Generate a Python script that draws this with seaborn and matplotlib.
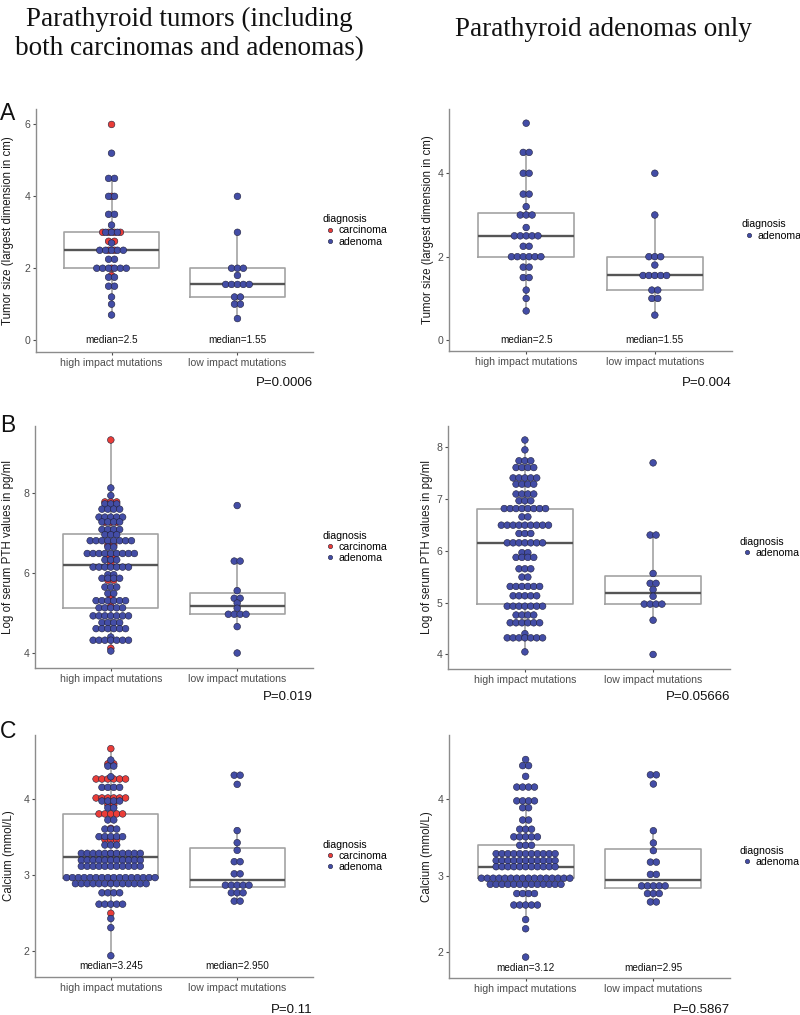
import numpy as np
import pandas as pd
import matplotlib
matplotlib.use("Agg")
import matplotlib.pyplot as plt
import seaborn as sns

groups = ["high impact mutations", "low impact mutations"]
palette = {"carcinoma": "#ea3d38", "adenoma": "#434da6"}

# A: tumor size (cm) -- row value and number of dots in that row
size_high_aden = [5.2, 4.5, 4.0, 3.5, 3.2, 3.0, 2.7, 2.5, 2.25, 2.0, 1.75, 1.5, 1.2, 1.0, 0.7]
size_high_aden_n = [1, 2, 2, 2, 1, 3, 1, 5, 2, 6, 2, 2, 1, 1, 1]
size_high_carc = [6.0, 4.0, 3.0, 2.75, 2.5, 2.0, 1.8]
size_high_carc_n = [1, 1, 4, 2, 2, 1, 1]
size_low = [4.0, 3.0, 2.0, 1.8, 1.55, 1.2, 1.0, 0.6]
size_low_n = [1, 1, 3, 1, 5, 2, 2, 1]

# B: log of serum PTH
pth_high_aden = [8.13, 7.94, 7.73, 7.6, 7.4, 7.28, 7.09, 6.96, 6.81, 6.65, 6.49, 6.33, 6.15,
                 5.96, 5.87, 5.65, 5.49, 5.31, 5.13, 4.93, 4.76, 4.61, 4.40, 4.32, 4.05]
pth_high_aden_n = [1, 1, 3, 4, 5, 4, 4, 3, 8, 2, 9, 3, 7, 2, 4, 3, 2, 6, 5, 7, 4, 6, 1, 7, 1]
pth_high_carc = [9.33, 7.78, 7.27, 7.0, 6.7, 6.45, 6.25, 5.82, 5.38, 5.17, 4.12]
pth_high_carc_n = [1, 3, 3, 1, 2, 2, 1, 2, 1, 1, 1]
pth_low = [7.69, 6.3, 5.56, 5.37, 5.25, 5.12, 4.97, 4.66, 4.0]
pth_low_n = [1, 2, 1, 2, 1, 1, 4, 1, 1]

# C: calcium (mmol/L)
ca_high_aden = [4.52, 4.44, 4.30, 4.16, 3.98, 3.89, 3.73, 3.61, 3.51, 3.40, 3.29, 3.20, 3.12,
                2.97, 2.89, 2.77, 2.62, 2.43, 2.31, 1.94]
ca_high_aden_n = [1, 2, 1, 4, 4, 2, 2, 3, 5, 3, 11, 11, 11, 16, 13, 4, 5, 1, 1, 1]
ca_high_carc = [4.67, 4.47, 4.27, 4.02, 3.93, 3.81, 3.62, 3.47, 3.29, 2.95, 2.5]
ca_high_carc_n = [1, 2, 6, 6, 2, 5, 1, 3, 1, 1, 1]
ca_low = [4.32, 4.20, 3.59, 3.43, 3.33, 3.18, 3.02, 2.87, 2.77, 2.66]
ca_low_n = [2, 1, 1, 1, 1, 2, 2, 5, 3, 2]

size_medians_all = ["median=2.5", "median=1.55"]
size_medians_aden = ["median=2.5", "median=1.55"]
ca_medians_all = ["median=3.245", "median=2.950"]
ca_medians_aden = ["median=3.12", "median=2.95"]
p_values = ["P=0.0006", "P=0.004", "P=0.019", "P=0.05666", "P=0.11", "P=0.5867"]

W, H = 800, 1015
DOT_PX = 5.9
plt.rcParams["font.family"] = ["Liberation Sans", "DejaVu Sans"]

fig = plt.figure(figsize=(W / 100, H / 100), dpi=100)


def make_frame(high_a, high_c, low_a):
    parts = []
    if high_c is not None:
        parts.append(("carcinoma", 0, high_c))
    parts.append(("adenoma", 0, high_a))
    parts.append(("adenoma", 1, low_a))
    rows = []
    for diag, pos, (vals, cnts) in parts:
        for v in np.repeat(vals, cnts):
            rows.append((groups[pos], pos, diag, float(v)))
    return pd.DataFrame(rows, columns=["group", "pos", "diagnosis", "value"])


def draw(px, df, ylim, yticks, ylabel, lab_cx, meds, med_y, pval, p_dy):
    x0, y0, x1, y1 = px
    rect = [x0 / W, 1 - y1 / H, (x1 - x0) / W, (y1 - y0) / H]
    ax = fig.add_axes(rect)
    step = DOT_PX / ((x1 - x0) / 2.2)
    key = ["pos", "diagnosis", "value"]
    k = df.groupby(key).cumcount()
    n = df.groupby(key)["value"].transform("size")
    df["x"] = df["pos"] + (k - (n - 1) / 2) * step

    sns.boxplot(data=df, x="pos", y="value", native_scale=True, orient="x",
                width=0.75, fill=False, color="#a3a3a3", linewidth=1.2,
                showfliers=False, showcaps=False,
                medianprops=dict(color="#555555", linewidth=1.7), ax=ax)
    order = [d for d in ["carcinoma", "adenoma"] if d in set(df["diagnosis"])]
    sns.scatterplot(data=df, x="x", y="value", hue="diagnosis", hue_order=order,
                    palette=palette, s=23, edgecolor="#20203a", linewidth=0.4,
                    ax=ax, zorder=3)
    sns.move_legend(ax, "center left", bbox_to_anchor=(1.035, 0.5), frameon=False,
                    title="diagnosis", fontsize=7.6, title_fontsize=7.6,
                    handlelength=1.35, handletextpad=0.1, labelspacing=0.1,
                    borderpad=0, borderaxespad=0, alignment="left", markerscale=0.65)

    ax.set_xlim(-0.6, 1.6)
    ax.set_ylim(*ylim)
    ax.set_xticks([0, 1], groups)
    ax.set_yticks(yticks, [str(t) for t in yticks])
    ax.set_xlabel("")
    ax.set_ylabel(ylabel, fontsize=8.3, color="#1a1a1a")
    ax.yaxis.set_label_coords((lab_cx + 6.5 - x0) / (x1 - x0), 0.5)
    ax.tick_params(axis="both", labelsize=7.6, colors="#4d4d4d", length=2.5,
                   width=0.8, pad=1.5)
    for s in ["top", "right"]:
        ax.spines[s].set_visible(False)
    for s in ["left", "bottom"]:
        ax.spines[s].set_color("#8c8c8c")
        ax.spines[s].set_linewidth(1.0)
    if meds is not None:
        for i, t in enumerate(meds):
            ax.text(i, med_y, t, ha="center", va="center", fontsize=7.2, color="#111111")
    ax.annotate(pval, xy=(1, 0), xycoords="axes fraction", xytext=(0, -p_dy),
                textcoords="offset pixels", ha="right", va="center",
                fontsize=9.5, color="#111111")
    return ax


dfA1 = make_frame((size_high_aden, size_high_aden_n), (size_high_carc, size_high_carc_n), (size_low, size_low_n))
dfA2 = make_frame((size_high_aden, size_high_aden_n), None, (size_low, size_low_n))
dfB1 = make_frame((pth_high_aden, pth_high_aden_n), (pth_high_carc, pth_high_carc_n), (pth_low, pth_low_n))
dfB2 = make_frame((pth_high_aden, pth_high_aden_n), None, (pth_low, pth_low_n))
dfC1 = make_frame((ca_high_aden, ca_high_aden_n), (ca_high_carc, ca_high_carc_n), (ca_low, ca_low_n))
dfC2 = make_frame((ca_high_aden, ca_high_aden_n), None, (ca_low, ca_low_n))

size_label = "Tumor size (largest dimension in cm)"
pth_label = "Log of serum PTH values in pg/ml"
ca_label = "Calcium (mmol/L)"

draw((36, 109, 313, 352), dfA1, (-0.33, 6.43), [0, 2, 4, 6], size_label, 7.5,
     size_medians_all, 0, p_values[0], 31)
draw((449, 109, 732, 351), dfA2, (-0.26, 5.54), [0, 2, 4], size_label, 427,
     size_medians_aden, 0, p_values[1], 32)
draw((35, 426, 313, 668), dfB1, (3.625, 9.68), [4, 6, 8], pth_label, 8,
     None, 0, p_values[2], 29)
draw((448, 426, 730, 669), dfB2, (3.72, 8.40), [4, 5, 6, 7, 8], pth_label, 426.7,
     None, 0, p_values[3], 28)
draw((35, 735, 313, 977), dfC1, (1.66, 4.85), [2, 3, 4], ca_label, 8.3,
     ca_medians_all, 1.8, p_values[4], 33)
draw((449, 735, 730, 978), dfC2, (1.667, 4.84), [2, 3, 4], ca_label, 426.7,
     ca_medians_aden, 1.8, p_values[5], 32)

fig.text(189 / W, 1 - 34 / H, "Parathyroid tumors (including\nboth carcinomas and adenomas)",
         family="Liberation Serif", fontsize=19.5, ha="center", va="center",
         linespacing=1.18, color="#111111")
fig.text(603 / W, 1 - 29 / H, "Parathyroid adenomas only",
         family="Liberation Serif", fontsize=19.5, ha="center", va="center", color="#111111")
for letter, y in [("A", 113), ("B", 425), ("C", 732)]:
    fig.text(0 / W, 1 - y / H, letter, fontsize=16.5, ha="left", va="center", color="#111111")

fig.savefig("out.png", dpi=100)
